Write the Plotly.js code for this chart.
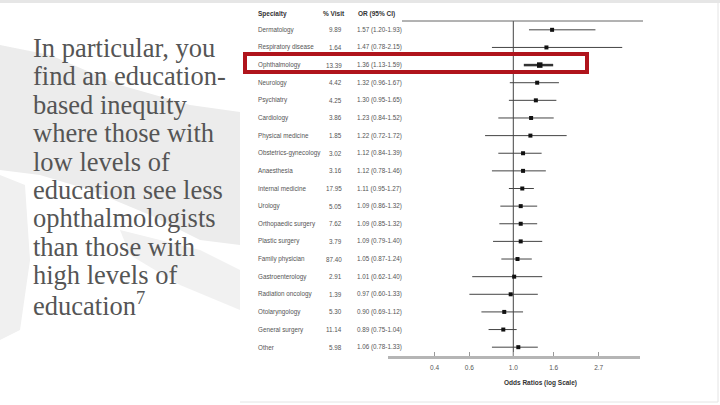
<!DOCTYPE html>
<html>
<head>
<meta charset="utf-8">
<script src="https://cdn.plot.ly/plotly-3.0.1.min.js"></script>
<style>html,body{margin:0;padding:0;background:#fff;}#chart{width:720px;height:405px;}</style>
</head>
<body>
<div id="chart"></div>
<script>
// ---- data ----
const specialties = ['Dermatology','Respiratory disease','Ophthalmology','Neurology','Psychiatry','Cardiology',
  'Physical medicine','Obstetrics-gynecology','Anaesthesia','Internal medicine','Urology','Orthopaedic surgery',
  'Plastic surgery','Family physician','Gastroenterology','Radiation oncology','Otolaryngology','General surgery','Other'];
const visitPct = ['9.89','1.64','13.39','4.42','4.25','3.86','1.85','3.02','3.16','17.95','5.05','7.62','3.79',
  '87.40','2.91','1.39','5.30','11.14','5.98'];
const orLabel = ['1.57 (1.20-1.93)','1.47 (0.78-2.15)','1.36 (1.13-1.59)','1.32 (0.96-1.67)','1.30 (0.95-1.65)',
  '1.23 (0.84-1.52)','1.22 (0.72-1.72)','1.12 (0.84-1.39)','1.12 (0.78-1.46)','1.11 (0.95-1.27)','1.09 (0.86-1.32)',
  '1.09 (0.85-1.32)','1.09 (0.79-1.40)','1.05 (0.87-1.24)','1.01 (0.62-1.40)','0.97 (0.60-1.33)','0.90 (0.69-1.12)',
  '0.89 (0.75-1.04)','1.06 (0.78-1.33)'];
const oddsRatio = [1.57,1.47,1.36,1.32,1.30,1.23,1.22,1.12,1.12,1.11,1.09,1.09,1.09,1.05,1.01,0.97,0.90,0.89,1.06];
const ciLow  = [1.20,0.78,1.13,0.96,0.95,0.84,0.72,0.84,0.78,0.95,0.86,0.85,0.79,0.87,0.62,0.60,0.69,0.75,0.78];
const ciHigh = [2.60,3.55,1.59,1.70,1.65,1.60,1.86,1.39,1.46,1.27,1.32,1.32,1.40,1.24,1.40,1.33,1.12,1.04,1.33];
const highlighted = 'Ophthalmology';
const tickValues = [0.4,0.6,1.0,1.6,2.7];
const tickLabels = ['0.4','0.6','1.0','1.6','2.7'];
const headers = ['Specialty','% Visit','OR (95% CI)'];
const axisTitle = 'Odds Ratios (log Scale)';
const slideText = ['In particular, you','find an education-','based inequity','where those with','low levels of',
  'education see less','ophthalmologists','than those with','high levels of','education<sup>7</sup>'];

// ---- layout geometry (pixels -> paper) ----
const W = 720, H = 405, L = 388, R = 640, T = 21, B = 356;
const px = p => (p - L) / (R - L);
const py = p => (B - p) / (B - T);

const rows = specialties.map((s, i) => i + 1);
const hiIdx = specialties.map((s, i) => i).filter(i => specialties[i] === highlighted);
const loIdx = specialties.map((s, i) => i).filter(i => specialties[i] !== highlighted);
const pick = (arr, idx) => idx.map(i => arr[i]);

function ciTrace(idx, size, thick, color) {
  return {
    type: 'scatter', mode: 'markers',
    x: pick(oddsRatio, idx), y: pick(rows, idx),
    marker: {symbol: 'square', size: size, color: '#111'},
    error_x: {type: 'data', symmetric: false,
      array: idx.map(i => ciHigh[i] - oddsRatio[i]),
      arrayminus: idx.map(i => oddsRatio[i] - ciLow[i]),
      width: 0, thickness: thick, color: color},
    hoverinfo: 'skip', showlegend: false
  };
}

const traces = [
  {type: 'scatter', mode: 'lines', x: [1, 1], y: [0.5, specialties.length + 0.5],
   line: {color: '#444', width: 1}, hoverinfo: 'skip', showlegend: false},
  ciTrace(loIdx, 4, 1, '#444'),
  ciTrace(hiIdx, 5.5, 2.5, '#333')
];

const tableFont = {family: 'Liberation Sans, Arial, sans-serif', size: 6.3, color: '#555'};
const ann = [];
specialties.forEach((s, i) => {
  ann.push({xref: 'paper', yref: 'y', x: px(256), y: rows[i], text: s, showarrow: false, xanchor: 'left', yanchor: 'middle', font: tableFont});
  ann.push({xref: 'paper', yref: 'y', x: px(344), y: rows[i], text: visitPct[i], showarrow: false, xanchor: 'right', yanchor: 'middle', font: tableFont});
  ann.push({xref: 'paper', yref: 'y', x: px(355), y: rows[i], text: orLabel[i], showarrow: false, xanchor: 'left', yanchor: 'middle', font: tableFont});
});
const hdrFont = Object.assign({}, tableFont, {color: '#333', size: 6.5});
ann.push({xref: 'paper', yref: 'paper', x: px(256), y: py(14), text: '<b>' + headers[0] + '</b>', showarrow: false, xanchor: 'left', yanchor: 'middle', font: hdrFont});
ann.push({xref: 'paper', yref: 'paper', x: px(347), y: py(14), text: '<b>' + headers[1] + '</b>', showarrow: false, xanchor: 'right', yanchor: 'middle', font: hdrFont});
ann.push({xref: 'paper', yref: 'paper', x: px(356), y: py(14), text: '<b>' + headers[2] + '</b>', showarrow: false, xanchor: 'left', yanchor: 'middle', font: hdrFont});
ann.push({xref: 'paper', yref: 'paper', x: px(540), y: py(383), text: '<b>' + axisTitle + '</b>', showarrow: false, xanchor: 'center', yanchor: 'middle', font: hdrFont});

slideText.forEach((t, i) => {
  ann.push({xref: 'paper', yref: 'paper', x: px(31), y: py(48 + i * 28.4), text: t, showarrow: false,
    xanchor: 'left', yanchor: 'middle', font: {family: 'Liberation Serif, Times New Roman, serif', size: 26.5, color: '#555'}});
});

function pathFrom(points) {
  return 'M' + points.map(p => px(p[0]).toFixed(4) + ',' + py(p[1]).toFixed(4)).join(' L') + ' Z';
}
const shapes = [
  // slide brush strokes
  {type: 'path', xref: 'paper', yref: 'paper', layer: 'below', line: {width: 0}, fillcolor: '#ececec',
   path: pathFrom([[0,45],[50,55],[120,85],[190,105],[240,112],[240,245],[200,240],[150,215],[90,190],[40,175],[0,170]])},
  {type: 'path', xref: 'paper', yref: 'paper', layer: 'below', line: {width: 0}, fillcolor: '#f0f0f0',
   path: pathFrom([[0,175],[25,185],[30,260],[20,330],[0,340]])},
  {type: 'path', xref: 'paper', yref: 'paper', layer: 'below', line: {width: 0}, fillcolor: '#f1f1f1',
   path: pathFrom([[120,230],[200,250],[240,270],[240,310],[180,285],[130,255]])},
  {type: 'rect', xref: 'paper', yref: 'paper', layer: 'below', line: {width: 0}, fillcolor: '#e6e6e6',
   x0: px(0), x1: px(W), y0: py(0), y1: py(3)},
  // plot image border
  {type: 'line', xref: 'paper', yref: 'paper', x0: px(718), x1: px(718), y0: py(3), y1: py(402), line: {color: '#e4e4e4', width: 1}},
  {type: 'line', xref: 'paper', yref: 'paper', x0: px(240), x1: px(718), y0: py(402), y1: py(402), line: {color: '#e4e4e4', width: 1}},
  // header rule
  {type: 'line', xref: 'paper', yref: 'paper', x0: px(402), x1: px(643), y0: py(21), y1: py(21), line: {color: '#666', width: 1}},
  // red highlight box
  {type: 'rect', xref: 'paper', yref: 'y', x0: px(245), x1: px(587), y0: 2.37, y1: 3.39,
   line: {color: '#b0141c', width: 4}}
];

const layout = {
  width: W, height: H,
  margin: {l: L, r: W - R, t: T, b: H - B, pad: 0},
  paper_bgcolor: '#ffffff', plot_bgcolor: 'rgba(0,0,0,0)',
  xaxis: {type: 'log', range: [-0.633, 0.640], tickvals: tickValues, ticktext: tickLabels,
    ticks: 'inside', ticklen: 4, tickcolor: '#999', tickwidth: 1, ticklabelstandoff: 3,
    showline: true, linecolor: '#b5b5b5', linewidth: 3, showgrid: false, zeroline: false,
    tickfont: {family: 'Liberation Sans, Arial, sans-serif', size: 6.5, color: '#555'},
    fixedrange: true},
  yaxis: {range: [specialties.length + 0.5, 0.5], visible: false, showgrid: false, zeroline: false, fixedrange: true},
  annotations: ann, shapes: shapes, showlegend: false
};
Plotly.newPlot('chart', traces, layout, {displayModeBar: false, staticPlot: true});
</script>
</body>
</html>
